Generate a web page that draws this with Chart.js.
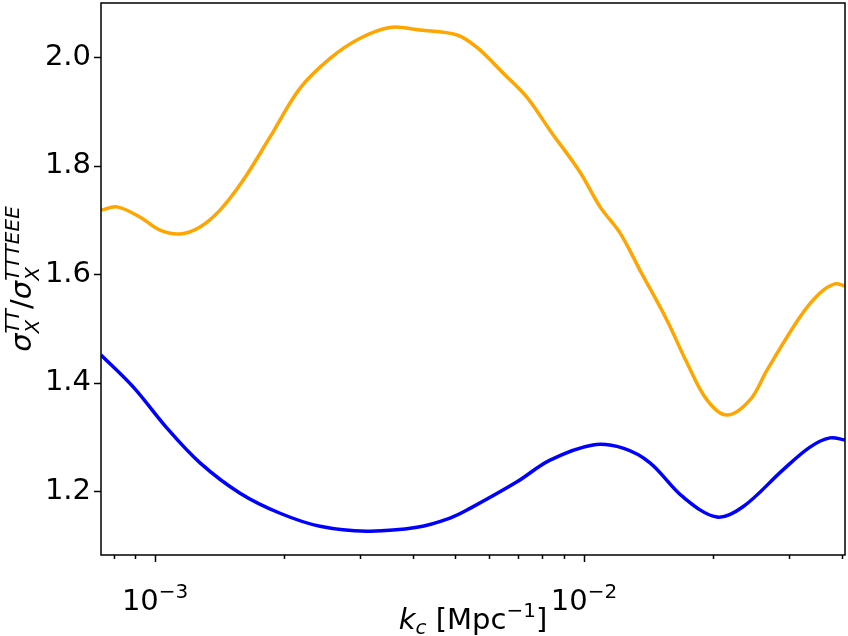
<!DOCTYPE html>
<html>
<head>
<meta charset="utf-8">
<script src="https://cdn.jsdelivr.net/npm/chart.js@4"></script>
<style>
  body { margin: 0; background: #fff; }
  #wrap { width: 848px; height: 636px; }
</style>
</head>
<body>
<div id="wrap"><canvas id="myChart" width="848" height="636"></canvas></div>
<script>
// data
let orangeK = [7.48e-4, 8.15e-4, 9.23e-4, 1.027e-3, 1.144e-3, 1.273e-3, 1.417e-3, 1.604e-3, 1.854e-3, 2.178e-3,
  2.559e-3, 3.006e-3, 3.532e-3, 4.148e-3, 5.058e-3, 5.63e-3, 6.475e-3, 7.365e-3, 8.333e-3, 9.79e-3,
  1.09e-2, 1.213e-2, 1.351e-2, 1.561e-2, 1.739e-2, 1.935e-2, 2.154e-2, 2.438e-2, 2.671e-2, 3.188e-2,
  3.549e-2, 3.846e-2, 4.06e-2];
let orangeR = [1.718, 1.724, 1.705, 1.681, 1.674, 1.687, 1.718, 1.773, 1.853, 1.943,
  1.998, 2.035, 2.055, 2.050, 2.041, 2.018, 1.971, 1.926, 1.865, 1.788,
  1.724, 1.676, 1.607, 1.515, 1.436, 1.368, 1.340, 1.368, 1.423, 1.521,
  1.565, 1.582, 1.578];

let blueK = [7.48e-4, 8.89e-4, 1.066e-3, 1.273e-3, 1.578e-3, 1.956e-3, 2.424e-3, 3.12e-3, 4.08e-3, 4.87e-3,
  5.424e-3, 6.98e-3, 8.333e-3, 1.049e-2, 1.233e-2, 1.425e-2, 1.702e-2, 2.042e-2, 2.348e-2, 2.91e-2,
  3.364e-2, 3.745e-2, 4.06e-2];
let blueR = [1.451, 1.392, 1.316, 1.252, 1.196, 1.159, 1.135, 1.126, 1.133, 1.150,
  1.168, 1.217, 1.257, 1.285, 1.279, 1.252, 1.189, 1.152, 1.171, 1.239,
  1.281, 1.298, 1.294];

// x ticks (log axis)
let xMajor = [1e-3, 1e-2];
let xMajorExp = ["\u22123", "\u22122"];
let xMinor = [8e-4, 9e-4, 2e-3, 3e-3, 4e-3, 5e-3, 6e-3, 7e-3, 8e-3, 9e-3, 2e-2, 3e-2, 4e-2];

let font = "DejaVu Sans";
let big = 29, small = 20;

function toPoints(xs, ys) {
  return xs.map((x, i) => ({x: x, y: ys[i]}));
}

// draw a row of text pieces, each with size, italic flag and baseline shift
function drawPieces(ctx, pieces, cx, baseY) {
  let total = 0;
  pieces.forEach(p => {
    ctx.font = (p.it ? "italic " : "") + p.size + "px " + font;
    p.w = ctx.measureText(p.t).width;
    if (!p.stack) total += p.w;
  });
  let x = cx - total / 2;
  ctx.textBaseline = "alphabetic";
  ctx.textAlign = "left";
  pieces.forEach(p => {
    ctx.font = (p.it ? "italic " : "") + p.size + "px " + font;
    ctx.fillText(p.t, x, baseY + (p.dy || 0));
    if (!p.stack) x += p.w;
  });
}

let framePlugin = {
  id: "frame",
  afterDraw(chart) {
    let ctx = chart.ctx;
    let a = chart.chartArea;
    let xs = chart.scales.x;
    let ys = chart.scales.y;
    ctx.save();
    ctx.strokeStyle = "#000";
    ctx.fillStyle = "#000";
    ctx.lineWidth = 1.5;
    ctx.strokeRect(a.left, a.top, a.right - a.left, a.bottom - a.top);

    // x ticks
    ctx.beginPath();
    xMajor.forEach(v => {
      let px = Math.round(xs.getPixelForValue(v)) + 0.5;
      ctx.moveTo(px, a.bottom); ctx.lineTo(px, a.bottom + 7);
    });
    xMinor.forEach(v => {
      let px = Math.round(xs.getPixelForValue(v)) + 0.5;
      ctx.moveTo(px, a.bottom); ctx.lineTo(px, a.bottom + 4);
    });
    // y ticks
    ys.ticks.forEach(t => {
      let py = Math.round(ys.getPixelForValue(t.value)) + 0.5;
      ctx.moveTo(a.left, py); ctx.lineTo(a.left - 7, py);
    });
    ctx.stroke();

    // x tick labels 10^n
    xMajor.forEach((v, i) => {
      let px = xs.getPixelForValue(v);
      drawPieces(ctx, [
        {t: "10", size: big},
        {t: xMajorExp[i], size: small, dy: -12}
      ], px, 610);
    });

    // x axis title
    drawPieces(ctx, [
      {t: "k", size: big, it: true},
      {t: "c", size: small, it: true, dy: 5},
      {t: " [Mpc", size: big},
      {t: "\u22121", size: small, dy: -12},
      {t: "]", size: big}
    ], (a.left + a.right) / 2, 629);

    // y axis title, rotated
    ctx.translate(31, (a.top + a.bottom) / 2);
    ctx.rotate(-Math.PI / 2);
    drawPieces(ctx, [
      {t: "\u03C3", size: big, it: true},
      {t: "X", size: small, it: true, dy: 8, stack: true},
      {t: "TT", size: small, it: true, dy: -12},
      {t: "/", size: big},
      {t: "\u03C3", size: big, it: true},
      {t: "X", size: small, it: true, dy: 8, stack: true},
      {t: "TTTEEE", size: small, it: true, dy: -12}
    ], 0, 0);
    ctx.restore();
  }
};

new Chart("myChart", {
  type: "line",
  data: {
    datasets: [{
      data: toPoints(orangeK, orangeR),
      borderColor: "#FFA500",
      borderWidth: 3.5,
      pointRadius: 0,
      tension: 0.35,
      fill: false
    }, {
      data: toPoints(blueK, blueR),
      borderColor: "#0000FF",
      borderWidth: 3.5,
      pointRadius: 0,
      tension: 0.35,
      fill: false
    }]
  },
  options: {
    responsive: false,
    animation: false,
    layout: {padding: {top: 3, right: 3, left: 0, bottom: 0}},
    plugins: {legend: {display: false}, tooltip: {enabled: false}},
    scales: {
      x: {
        type: "logarithmic",
        min: 7.48e-4,
        max: 4.06e-2,
        grid: {display: false, drawTicks: false},
        border: {display: false},
        ticks: {display: false},
        afterFit: s => { s.height = 81; s.paddingLeft = 0; s.paddingRight = 0; }
      },
      y: {
        min: 1.082,
        max: 2.1,
        grid: {display: false, drawTicks: false},
        border: {display: false},
        ticks: {
          stepSize: 0.2,
          includeBounds: false,
          padding: 10,
          color: "#000",
          font: {family: font, size: big},
          callback: v => v.toFixed(1)
        },
        afterFit: s => { s.width = 101; s.paddingTop = 0; s.paddingBottom = 0; }
      }
    }
  },
  plugins: [framePlugin]
});
</script>
</body>
</html>
